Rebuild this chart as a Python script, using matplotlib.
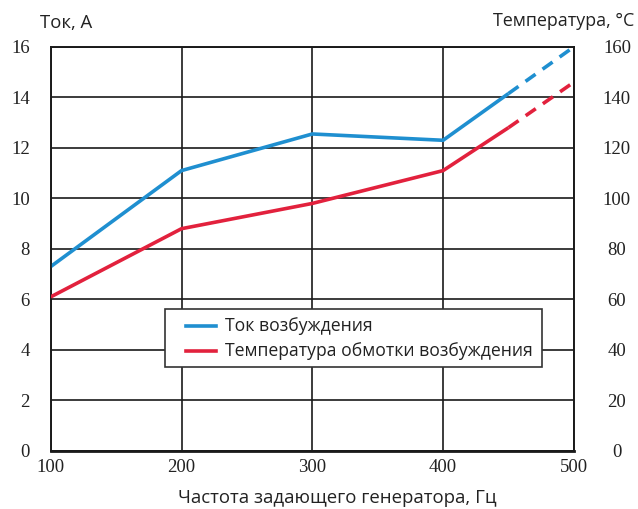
import matplotlib
matplotlib.use("Agg")
import matplotlib.pyplot as plt
from matplotlib.lines import Line2D
from matplotlib.patches import Rectangle

# Excitation current (A) and field-winding temperature (°C) vs. driver frequency (Hz)
freq = [100, 200, 300, 400, 450]
current = [7.3, 11.1, 12.55, 12.3, 14.15]
temperature = [61, 88, 98, 111, 128]

freq_ext = [450, 500]
current_ext = [14.15, 16.0]
temperature_ext = [128, 146]

x_ticks = [100, 200, 300, 400, 500]
left_ticks = [0, 2, 4, 6, 8, 10, 12, 14, 16]
right_ticks = [0, 20, 40, 60, 80, 100, 120, 140, 160]
legend_labels = ["Ток возбуждения", "Температура обмотки возбуждения"]

blue = "#1f8fd0"
red = "#e2213d"
grid_c = "#1a1a1a"
text_c = "#222222"
serif = "Liberation Serif"
sans = "Open Sans"

W, H = 638, 509
fig = plt.figure(figsize=(W / 100, H / 100), dpi=100)
ax = fig.add_axes([0.0795, 0.114, 0.820, 0.794])
ax2 = ax.twinx()

ax.set_xlim(100, 500)
ax.set_ylim(0, 16)
ax2.set_ylim(0, 160)

ax.set_xticks(x_ticks)
ax.set_yticks(left_ticks)
ax2.set_yticks(right_ticks)
ax.grid(True, color=grid_c, linewidth=1.2)
ax.set_axisbelow(True)

for a in (ax, ax2):
    for s in a.spines.values():
        s.set_color(grid_c)
        s.set_linewidth(1.2)
    a.tick_params(length=0)
ax.spines["bottom"].set_linewidth(2.0)

ax.tick_params(axis="x", pad=6, labelsize=13.5)
ax.tick_params(axis="y", pad=15, labelsize=13.5)
ax2.tick_params(axis="y", pad=31, labelsize=13.5)
for lab in ax.get_xticklabels() + ax.get_yticklabels() + ax2.get_yticklabels():
    lab.set_fontfamily(serif)
    lab.set_color(text_c)
for lab in ax2.get_yticklabels():
    lab.set_horizontalalignment("center")

lw = 2.6
ax.plot(freq, current, color=blue, linewidth=lw, solid_capstyle="butt", zorder=3)
ax.plot(freq_ext, current_ext, color=blue, linewidth=lw, linestyle=(0, (3.4, 2.4)), zorder=3)
ax2.plot(freq, temperature, color=red, linewidth=lw, solid_capstyle="butt", zorder=3)
ax2.plot(freq_ext, temperature_ext, color=red, linewidth=lw, linestyle=(0, (3.4, 2.4)), zorder=3)


def px(x, y):
    """Pixel position (from top-left) to figure fraction."""
    return x / W, 1 - y / H


# Legend box drawn in figure coordinates
x0, y0 = px(165, 367)
x1, y1 = px(542, 309)
fig.add_artist(Rectangle((x0, y0), x1 - x0, y1 - y0, transform=fig.transFigure,
                         facecolor="white", edgecolor="#333333", linewidth=1.2, zorder=5))
for color, label, yy in zip([blue, red], legend_labels, [326, 351]):
    (a0, b0), (a1, _) = px(186, yy), px(216, yy)
    fig.add_artist(Line2D([a0, a1], [b0, b0], transform=fig.transFigure,
                          color=color, linewidth=lw, zorder=6))
    tx, ty = px(225, yy)
    fig.text(tx, ty, label, fontfamily=sans, fontsize=12.7, color=text_c,
             ha="left", va="center", zorder=6)

fig.text(0.063, 0.955, "Ток, А", fontfamily=sans, fontsize=13.3, color=text_c,
         ha="left", va="center")
fig.text(0.994, 0.958, "Температура, °C", fontfamily=sans, fontsize=12.9, color=text_c,
         ha="right", va="center")
fig.text(0.528, 0.022, "Частота задающего генератора, Гц", fontfamily=sans, fontsize=13.4,
         color=text_c, ha="center", va="center")

fig.savefig("out.png", dpi=100, facecolor="white")
